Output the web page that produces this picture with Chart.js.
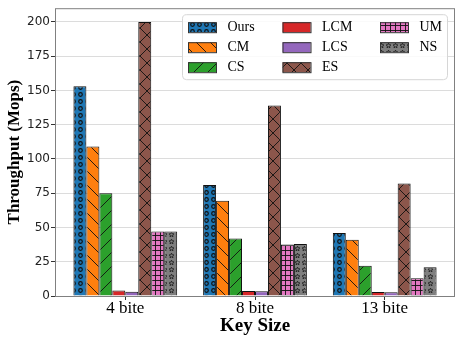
<!DOCTYPE html>
<html>
<head>
<meta charset="utf-8">
<script src="https://cdn.jsdelivr.net/npm/chart.js"></script>
<style>
  html, body { margin: 0; padding: 0; background: #fff; }
  #wrap { width: 464px; height: 337px; }
</style>
</head>
<body>
<div id="wrap"><canvas id="tputChart" width="464" height="337"></canvas></div>
<script>
// date
var categories = ['4 bite', '8 bite', '13 bite'];
var seriesNames = ['Ours', 'CM', 'CS', 'LCM', 'LCS', 'ES', 'UM', 'NS'];
var ours = [153, 81, 46];
var cm = [109, 69.5, 41];
var cs = [75, 42, 22];
var lcm = [4, 3.6, 2.9];
var lcs = [3.1, 3.4, 2.7];
var es = [200, 139, 82];
var um = [47, 37.5, 13];
var ns = [47, 38, 21];
var yTicks = [0, 25, 50, 75, 100, 125, 150, 175, 200];

var seriesValues = [ours, cm, cs, lcm, lcs, es, um, ns];
var colors = ['#1f77b4', '#ff7f0e', '#2ca02c', '#d62728', '#9467bd', '#8c564b', '#e377c2', '#7f7f7f'];
var hatches = ['o', '\\', '/', '', '', 'x', '+', '*'];

function drawStar(c, cx, cy, r) {
    c.beginPath();
    for (var k = 0; k < 10; k++) {
        var rr = k % 2 === 0 ? r : r * 0.45;
        var a = -Math.PI / 2 + k * Math.PI / 5;
        var px = cx + rr * Math.cos(a), py = cy + rr * Math.sin(a);
        if (k === 0) c.moveTo(px, py); else c.lineTo(px, py);
    }
    c.closePath();
    c.stroke();
}

function makePattern(color, hatch) {
    if (!hatch) return color;
    var size = 14;
    if (hatch === 'o') size = 7;
    if (hatch === '+') size = 5;
    if (hatch === '*') size = 7;
    var cv = document.createElement('canvas');
    cv.width = size; cv.height = size;
    var c = cv.getContext('2d');
    c.fillStyle = color;
    c.fillRect(0, 0, size, size);
    c.strokeStyle = '#111';
    c.lineWidth = 0.9;
    if (hatch === '\\') {
        c.beginPath();
        c.moveTo(-1, -1); c.lineTo(size + 1, size + 1);
        c.stroke();
    } else if (hatch === '/') {
        c.beginPath();
        c.moveTo(-1, size + 1); c.lineTo(size + 1, -1);
        c.stroke();
    } else if (hatch === 'x') {
        c.beginPath();
        c.moveTo(-1, -1); c.lineTo(size + 1, size + 1);
        c.moveTo(-1, size + 1); c.lineTo(size + 1, -1);
        c.stroke();
    } else if (hatch === '+') {
        c.beginPath();
        c.moveTo(0.5, 0); c.lineTo(0.5, size);
        c.moveTo(0, 0.5); c.lineTo(size, 0.5);
        c.stroke();
    } else if (hatch === 'o') {
        c.lineWidth = 1.2;
        c.beginPath();
        c.arc(3.5, 3.5, 1.8, 0, Math.PI * 2);
        c.stroke();
    } else if (hatch === '*') {
        c.lineWidth = 0.7;
        drawStar(c, 3.5, 3.7, 2.6);
    }
    return c.createPattern(cv, 'repeat');
}

var datasets = seriesNames.map(function (name, i) {
    return {
        label: name,
        data: seriesValues[i].map(function (v, j) { return { x: j, y: v }; }),
        backgroundColor: makePattern(colors[i], hatches[i]),
        borderColor: '#111',
        borderWidth: 1,
        borderSkipped: 'bottom',
        categoryPercentage: 0.8,
        barPercentage: 1.0
    };
});

// rama + legenda in trei coloane, in interiorul graficului
var framePlugin = {
    id: 'frameLegend',
    afterDatasetsDraw: function (chart) {
        var a = chart.chartArea, c = chart.ctx;
        c.save();
        c.strokeStyle = '#808080';
        c.lineWidth = 1;
        c.strokeRect(a.left + 0.5, a.top + 0.5, a.right - a.left - 1, a.bottom - a.top);
        c.restore();
    },
    afterDraw: function (chart) {
        var a = chart.chartArea, c = chart.ctx;
        var bx = a.right - 273, by = a.top + 6, bw = 265, bh = 65;
        c.save();
        c.fillStyle = 'rgba(255,255,255,0.85)';
        c.strokeStyle = '#d6d6d6';
        c.lineWidth = 1;
        c.beginPath();
        c.roundRect(bx + 0.5, by + 0.5, bw, bh, 4);
        c.fill();
        c.stroke();
        c.font = '14px "Liberation Serif", "Times New Roman", serif';
        c.textBaseline = 'middle';
        c.fillStyle = '#000';
        var colX = [bx + 6, bx + 100.5, bx + 198];
        for (var i = 0; i < seriesNames.length; i++) {
            var col = Math.floor(i / 3), row = i % 3;
            var hx = colX[col], hy = by + 13 + row * 20;
            c.fillStyle = datasets[i].backgroundColor;
            c.fillRect(hx, hy - 5, 28, 10);
            c.strokeStyle = '#333';
            c.strokeRect(hx + 0.5, hy - 4.5, 28, 10);
            c.fillStyle = '#000';
            c.fillText(seriesNames[i], hx + 39.5, hy + 0.5);
        }
        c.restore();
    }
};

var ctx = document.getElementById('tputChart').getContext('2d');
var tputChart = new Chart(ctx, {
    type: 'bar',
    data: { datasets: datasets },
    plugins: [framePlugin],
    options: {
        responsive: false,
        animation: false,
        layout: { padding: { left: 0, top: 6, right: 9, bottom: 0 } },
        plugins: {
            legend: { display: false },
            tooltip: { enabled: false }
        },
        scales: {
            x: {
                type: 'linear',
                min: -0.542,
                max: 2.542,
                offset: false,
                afterBuildTicks: function (scale) {
                    scale.ticks = categories.map(function (cat, i) { return { value: i }; });
                },
                afterFit: function (scale) { scale.height = 41; },
                ticks: {
                    callback: function (v) { return categories[v]; },
                    color: '#000',
                    padding: -2,
                    maxRotation: 0,
                    font: { family: '"Liberation Serif", "Times New Roman", serif', size: 17 }
                },
                grid: { display: true, offset: false, drawOnChartArea: false, drawTicks: true, tickLength: 4, tickColor: '#333' },
                border: { display: false },
                title: {
                    display: true,
                    text: 'Key Size',
                    color: '#000',
                    padding: { top: 0, bottom: 0 },
                    font: { family: '"Liberation Serif", "Times New Roman", serif', size: 19, weight: 'bold' }
                }
            },
            y: {
                min: 0,
                max: 210,
                afterBuildTicks: function (scale) {
                    scale.ticks = yTicks.map(function (v) { return { value: v }; });
                },
                afterFit: function (scale) { scale.width = 55; },
                ticks: {
                    color: '#222',
                    padding: 1,
                    font: { family: '"DejaVu Sans", sans-serif', size: 12 }
                },
                grid: {
                    color: '#dcdcdc',
                    borderDash: [4, 2],
                    tickLength: 4,
                    tickColor: '#333',
                    tickBorderDash: []
                },
                border: { display: false },
                title: {
                    display: true,
                    text: 'Throughput (Mops)',
                    color: '#000',
                    padding: { top: 4, bottom: 0 },
                    font: { family: '"Liberation Serif", "Times New Roman", serif', size: 17, weight: 'bold' }
                }
            }
        }
    }
});
</script>
</body>
</html>
